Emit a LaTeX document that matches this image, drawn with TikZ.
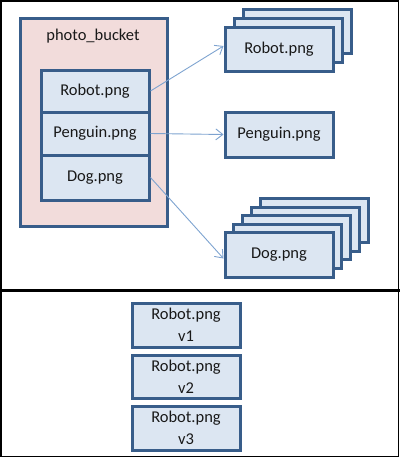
\documentclass[tikz,border=0pt]{standalone}
\usepackage{fontspec}
\setmainfont{Carlito}
\usetikzlibrary{arrows.meta}
\definecolor{boxline}{HTML}{385D8A}
\definecolor{boxfill}{HTML}{DCE6F2}
\definecolor{bucketfill}{HTML}{F2DCDB}
\definecolor{arrowcol}{HTML}{7EA3D0}
\tikzset{
  file/.style={draw=boxline, fill=boxfill, line width=3pt, minimum width=108pt, minimum height=44pt, inner sep=0pt, font=\fontsize{16.5}{20}\selectfont, text=black!90},
  vfile/.style={file, align=center, font=\fontsize{16.5}{22}\selectfont},
  bucket/.style={draw=boxline, fill=bucketfill, line width=3pt, minimum width=147pt, minimum height=208pt, inner sep=0pt},
  link/.style={draw=arrowcol, line width=0.9pt, -{Straight Barb[length=7pt,width=11pt]}},
}
\begin{document}
\begin{tikzpicture}[x=1pt,y=-1pt]
\useasboundingbox (0,0) rectangle (400,458);
\draw[line width=1.5pt] (0.75,0.75) rectangle (398.5,456.5);
\draw[line width=3pt] (0,290.5) coordinate (dl) -- (400,290.5) coordinate (dr);
% bucket
\node[bucket] (bucket) at (93.5,122) {};
\node[font=\fontsize{16.5}{20}\selectfont, text=black!90] (blabel) at (93,36) {photo\_bucket};
\node[file, minimum height=42pt] (robot) at (95,91) {Robot.png};
\node[file, minimum height=43pt] (penguin) at (95,133.5) {Penguin.png};
\node[file, minimum height=45pt] (dog) at (95,177.5) {Dog.png};
% robot versions
\node[file] (robotB2) at (297,31) {};
\node[file] (robotB1) at (288,40) {};
\node[file] (robotR) at (279,49) {Robot.png};
% penguin
\node[file, minimum height=45pt] (penguinR) at (279,134.5) {Penguin.png};
% dog versions
\node[file] (dogB4) at (314,220.5) {};
\node[file] (dogB3) at (305.25,229) {};
\node[file] (dogB2) at (296.5,237.5) {};
\node[file] (dogB1) at (287.75,246) {};
\node[file, minimum height=45pt] (dogR) at (279,254.5) {Dog.png};
% arrows
\draw[link] (robot.east) -- ([yshift=3pt]robotR.west);
\draw[link] (penguin.east) -- (penguinR.west);
\draw[link] (dog.east) -- ([yshift=-4pt]dogR.west);
% bottom versions
\node[vfile] (v1) at (186,325) {Robot.png\\v1};
\node[vfile, minimum height=43pt] (v2) at (186,376.5) {Robot.png\\v2};
\node[vfile] (v3) at (186,428) {Robot.png\\v3};
\end{tikzpicture}
\end{document}
